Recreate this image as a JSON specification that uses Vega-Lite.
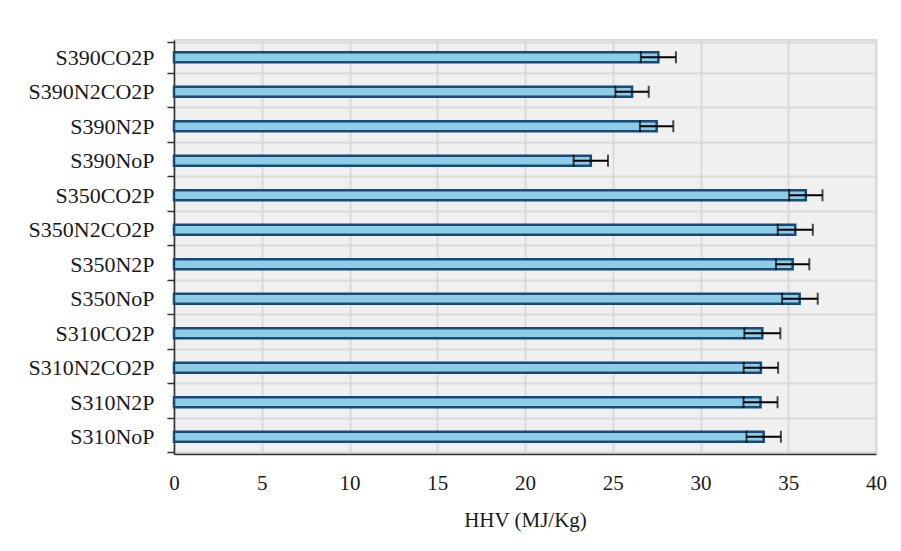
{
  "$schema": "https://vega.github.io/schema/vega-lite/v6.json",
  "width": 702,
  "height": 414,
  "autosize": "none",
  "padding": {"left": 174, "top": 40, "right": 25, "bottom": 97},
  "background": "white",
  "data": {
    "values": [
      {"sample": "S390CO2P", "hhv": 27.6, "lo": 26.6, "hi": 28.6},
      {"sample": "S390N2CO2P", "hhv": 26.1, "lo": 25.15, "hi": 27.05},
      {"sample": "S390N2P", "hhv": 27.5, "lo": 26.55, "hi": 28.45},
      {"sample": "S390NoP", "hhv": 23.75, "lo": 22.77, "hi": 24.73},
      {"sample": "S350CO2P", "hhv": 36.0, "lo": 35.05, "hi": 36.95},
      {"sample": "S350N2CO2P", "hhv": 35.4, "lo": 34.4, "hi": 36.4},
      {"sample": "S350N2P", "hhv": 35.25, "lo": 34.3, "hi": 36.2},
      {"sample": "S350NoP", "hhv": 35.65, "lo": 34.65, "hi": 36.68},
      {"sample": "S310CO2P", "hhv": 33.52, "lo": 32.5, "hi": 34.55},
      {"sample": "S310N2CO2P", "hhv": 33.44, "lo": 32.46, "hi": 34.42},
      {"sample": "S310N2P", "hhv": 33.42, "lo": 32.45, "hi": 34.39},
      {"sample": "S310NoP", "hhv": 33.6, "lo": 32.62, "hi": 34.58}
    ]
  },
  "encoding": {
    "y": {
      "field": "sample",
      "type": "nominal",
      "sort": null,
      "axis": {
        "title": null,
        "tickBand": "extent",
        "grid": true,
        "gridColor": "#d9d9d9",
        "gridWidth": 2,
        "tickSize": 7,
        "tickColor": "#333333",
        "tickWidth": 1.5,
        "domainColor": "#333333",
        "domainWidth": 1.5,
        "labelPadding": 13,
        "labelFontSize": 22,
        "labelFont": "Liberation Serif",
        "labelColor": "#1a1a1a"
      }
    }
  },
  "layer": [
    {
      "mark": {
        "type": "bar",
        "height": {"band": 0.32},
        "fill": "#8ECDE6",
        "stroke": "#174A78",
        "strokeWidth": 2.5
      },
      "encoding": {
        "x": {
          "field": "hhv",
          "type": "quantitative",
          "title": "HHV (MJ/Kg)",
          "scale": {"domain": [0, 40]},
          "axis": {
            "values": [0, 5, 10, 15, 20, 25, 30, 35, 40],
            "title": "HHV (MJ/Kg)",
            "grid": true,
            "gridColor": "#d9d9d9",
            "gridWidth": 2,
            "ticks": false,
            "labelFlush": false,
            "domainColor": "#333333",
            "domainWidth": 1.5,
            "labelPadding": 18,
            "labelFontSize": 21,
            "labelFont": "Liberation Serif",
            "labelColor": "#1a1a1a",
            "titleFont": "Liberation Serif",
            "titleFontSize": 21,
            "titleFontWeight": "normal",
            "titleColor": "#1a1a1a",
            "titlePadding": 16
          }
        }
      }
    },
    {
      "mark": {
        "type": "errorbar",
        "ticks": {"size": 12, "thickness": 2, "color": "black"},
        "rule": {"strokeWidth": 2, "color": "black"}
      },
      "encoding": {
        "x": {"field": "lo", "type": "quantitative", "title": "HHV (MJ/Kg)"},
        "x2": {"field": "hi"}
      }
    }
  ],
  "config": {
    "view": {"fill": "#f0f0f0", "stroke": "#d9d9d9", "strokeWidth": 2}
  }
}
